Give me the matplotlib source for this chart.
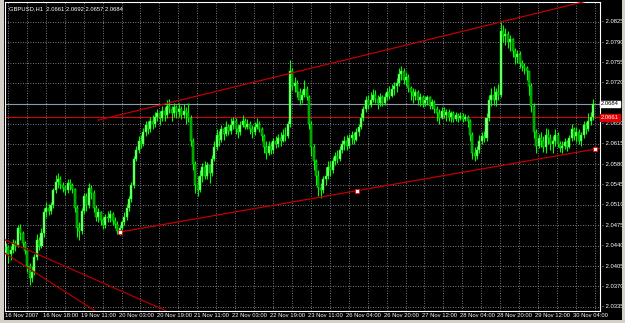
import numpy as np
import matplotlib
matplotlib.use("Agg")
import matplotlib.pyplot as plt

# GBPUSD H1 bars, prices in pips above 2.0000
first_open = 432
closes = [438, 425, 432, 445, 440, 470, 462, 445, 430, 405,
          385, 395, 420, 450, 440, 462, 498, 505, 500, 510,
          535, 550, 555, 545, 540, 535, 548, 545, 538, 505,
          470, 465, 500, 525, 510, 540, 530, 505, 490, 498,
          485, 475, 490, 488, 495, 482, 478, 465, 470, 480,
          490, 505, 520, 545, 590, 605, 620, 615, 635, 648,
          640, 655, 650, 662, 668, 660, 672, 665, 680, 675,
          668, 678, 670, 675, 665, 672, 668, 660, 620, 580,
          545, 535, 560, 575, 560, 578, 565, 590, 610, 630,
          622, 640, 632, 645, 638, 648, 655, 640, 635, 648,
          655, 645, 650, 640, 635, 645, 650, 640, 628, 610,
          600, 612, 605, 620, 615, 625, 620, 630, 628, 650,
          740, 715, 720, 705, 690, 700, 710, 695, 650, 610,
          585, 560, 540, 535, 555, 560, 575, 570, 585, 595,
          590, 605, 615, 620, 612, 625, 630, 622, 635, 645,
          660, 675, 690, 682, 690, 700, 692, 685, 695, 685,
          695, 705, 698, 710, 715, 720, 735, 740, 725, 730,
          712, 705, 698, 705, 690, 695, 685, 690, 695, 680,
          688, 675, 668, 660, 672, 665, 670, 662, 668, 658,
          665, 660, 663, 658, 662, 655, 630, 600, 595, 605,
          620, 628, 625, 660, 690, 700, 690, 705, 700, 810,
          800, 805, 790, 795, 775, 765, 770, 755, 750, 745,
          740, 715, 680, 635, 612, 625, 620, 610, 630, 625,
          615, 620, 630, 615, 608, 612, 618, 610, 625, 640,
          628, 635, 620, 630, 648, 640, 655, 661, 684]
highs = [445, 442, 440, 452, 450, 476, 478, 465, 448, 432,
         410, 405, 425, 460, 455, 470, 505, 515, 512, 515,
         540, 562, 565, 560, 550, 545, 555, 555, 548, 540,
         510, 480, 505, 530, 530, 548, 545, 535, 510, 505,
         500, 490, 495, 500, 502, 498, 490, 482, 475, 485,
         498, 512, 525, 550, 595, 612, 628, 630, 642, 655,
         655, 662, 665, 670, 676, 672, 680, 678, 690, 692,
         680, 685, 682, 685, 680, 684, 678, 685, 665, 625,
         585, 560, 570, 582, 585, 584, 580, 596, 620, 640,
         638, 648, 645, 655, 650, 660, 662, 660, 648, 655,
         665, 660, 658, 655, 648, 652, 660, 655, 645, 632,
         620, 620, 618, 625, 628, 632, 635, 640, 645, 655,
         760, 745, 730, 725, 712, 708, 725, 715, 700, 655,
         615, 590, 570, 548, 560, 575, 585, 585, 592, 602,
         605, 612, 622, 628, 630, 632, 638, 635, 642, 650,
         668, 680, 698, 700, 705, 710, 708, 700, 702, 700,
         702, 712, 715, 718, 722, 728, 745, 750, 745, 738,
         735, 715, 712, 710, 708, 702, 700, 698, 700, 698,
         692, 690, 680, 675, 678, 678, 676, 675, 672, 672,
         670, 668, 670, 668, 666, 665, 658, 635, 610, 612,
         630, 636, 638, 668, 700, 712, 715, 712, 718, 825,
         820, 815, 810, 802, 798, 780, 776, 775, 760, 755,
         750, 740, 720, 685, 640, 632, 635, 628, 642, 640,
         632, 628, 640, 635, 620, 620, 625, 622, 630, 650,
         645, 645, 640, 635, 655, 652, 668, 670, 692]
lows = [425, 410, 415, 428, 430, 438, 450, 438, 425, 395,
        372, 378, 390, 415, 432, 436, 455, 490, 492, 495,
        505, 530, 540, 538, 532, 528, 530, 535, 530, 498,
        455, 450, 460, 495, 500, 505, 520, 498, 482, 480,
        475, 468, 470, 480, 480, 475, 470, 460, 458, 465,
        475, 485, 500, 515, 540, 585, 600, 608, 612, 628,
        632, 635, 640, 645, 655, 648, 655, 655, 660, 668,
        655, 662, 660, 662, 658, 660, 650, 652, 612, 570,
        530, 525, 532, 550, 555, 555, 548, 560, 585, 605,
        612, 618, 622, 628, 630, 632, 640, 632, 625, 630,
        645, 640, 640, 632, 625, 630, 640, 635, 620, 600,
        590, 596, 598, 600, 608, 610, 612, 618, 620, 625,
        645, 708, 705, 695, 682, 685, 695, 690, 640, 595,
        570, 545, 525, 522, 530, 545, 555, 560, 565, 578,
        582, 585, 600, 605, 605, 608, 615, 615, 620, 628,
        640, 655, 670, 675, 678, 688, 685, 675, 680, 680,
        682, 690, 692, 695, 700, 705, 715, 725, 718, 715,
        705, 690, 685, 690, 682, 680, 678, 680, 682, 675,
        676, 668, 655, 650, 658, 660, 655, 655, 652, 652,
        655, 652, 656, 652, 655, 645, 620, 590, 585, 590,
        600, 615, 618, 620, 655, 680, 682, 680, 690, 695,
        790, 785, 780, 775, 765, 752, 755, 745, 740, 735,
        725, 700, 670, 625, 600, 608, 610, 602, 600, 615,
        605, 600, 612, 610, 602, 600, 606, 603, 608, 620,
        622, 618, 615, 612, 625, 632, 638, 648, 657]

time_labels = ["16 Nov 2007", "16 Nov 18:00", "19 Nov 11:00", "20 Nov 03:00",
               "20 Nov 19:00", "21 Nov 11:00", "22 Nov 03:00", "22 Nov 19:00",
               "23 Nov 11:00", "26 Nov 04:00", "26 Nov 20:00", "27 Nov 12:00",
               "28 Nov 04:00", "28 Nov 20:00", "29 Nov 12:00", "30 Nov 04:00"]
price_ticks = [2.0335, 2.0370, 2.0405, 2.0440, 2.0475, 2.0510, 2.0545, 2.0580,
               2.0615, 2.0650, 2.0720, 2.0755, 2.0790, 2.0825]
bid_price = 2.0684
hline_price = 2.0661
header = "GBPUSD,H1  2.0661 2.0692 2.0657 2.0684"

# trend lines, anchors as (bar, price)
upper_line = [(38.9, 2.0656), (229.8, 2.08455)]
lower_line = [(48.2, 2.04635), (148.3, 2.0534), (248.8, 2.0606)]
mirror_a = [(-0.42, 2.0427), (37.6, 2.0328)]
mirror_b = [(-0.42, 2.0450), (67.6, 2.0328)]

c = 2.0 + np.array(closes) / 10000.0
o = np.concatenate([[2.0 + first_open / 10000.0], c[:-1]])
h = 2.0 + np.array(highs) / 10000.0
l = 2.0 + np.array(lows) / 10000.0
h = np.maximum(h, np.maximum(o, c))
l = np.minimum(l, np.minimum(o, c))
n = len(c)
x = np.arange(n)

W, H = 625, 323
fig = plt.figure(figsize=(W / 100, H / 100), dpi=100)
fig.patch.set_facecolor("black")
ax = fig.add_axes([5 / W, 12 / H, 595 / W, 309 / H])
ax.set_facecolor("black")
ax.set_xlim(-0.42, 250.95)
ax.set_ylim(2.03276, 2.08593)
for s in ax.spines.values():
    s.set_color("white")
    s.set_linewidth(0.8)
ax.set_xticks([])
ax.set_yticks([])

grid_kw = dict(color="#a0a0a0", lw=0.6, linestyle=(0, (1, 2)), zorder=1)
for p in price_ticks:
    ax.axhline(p, **grid_kw)
for k in range(0, 256, 8):
    ax.axvline(k + 0.8, **grid_kw)

# candles
up = c >= o
ax.vlines(x, l, h, color="#00ff00", lw=0.8, zorder=3)
bw = 0.85
for i in range(n):
    lo, hi = min(o[i], c[i]), max(o[i], c[i])
    fc = "#8cff8c" if up[i] else "#009000"
    ax.add_patch(plt.Rectangle((x[i] - bw / 2, lo), bw, max(hi - lo, 0.00004),
                               facecolor=fc, edgecolor="#00ff00", lw=0.35, zorder=4))

# horizontal lines
ax.axhline(bid_price, color="#8a9aa8", lw=0.8, zorder=2)
ax.axhline(hline_price, color="#e00000", lw=0.75, zorder=2)

# trend lines
def ray(pts, color="#c00000"):
    (x0, y0), (x1, y1) = pts[0], pts[-1]
    slope = (y1 - y0) / (x1 - x0)
    xs = np.array([x0, 260])
    ax.plot(xs, y0 + slope * (xs - x0), color=color, lw=0.9, zorder=5)

ray(upper_line)
ray(lower_line)
for seg in (mirror_a, mirror_b):
    ax.plot([seg[0][0], seg[1][0]], [seg[0][1], seg[1][1]], color="#b00000", lw=0.9, zorder=5)
ax.plot([p[0] for p in lower_line], [p[1] for p in lower_line], ls="none", marker="s",
        ms=2.2, mfc="white", mec="red", mew=0.6, zorder=6)

font = dict(family="Liberation Sans", size=4.2, color="white")
ax.text(0.006, 0.985, header, transform=ax.transAxes, va="top", ha="left", **font)

ty = ax.get_yaxis_transform()
for p in price_ticks:
    ax.text(1.004, p, "- %.4f" % p, transform=ty, va="center", ha="left", **font)
ax.text(1.002, bid_price, "%.4f" % bid_price, transform=ty, va="center", ha="left",
        family="Liberation Sans", size=4.2, color="black",
        bbox=dict(boxstyle="square,pad=0.15", fc="white", ec="white"))
ax.text(1.002, hline_price, "%.4f" % hline_price, transform=ty, va="center", ha="left",
        family="Liberation Sans", size=4.2, color="white",
        bbox=dict(boxstyle="square,pad=0.15", fc="#e00000", ec="#e00000"))

tx = ax.get_xaxis_transform()
for k, lab in enumerate(time_labels):
    ax.text(k * 16 - 0.4, -0.008, lab, transform=tx, va="top", ha="left", **font)

# window frame
fig.add_artist(plt.Rectangle((0, 0), 4 / W, 1, transform=fig.transFigure, fc="#d4d0c8", ec="none"))
fig.add_artist(plt.Rectangle((0, 0), 1, 3 / H, transform=fig.transFigure, fc="#d4d0c8", ec="none"))
fig.add_artist(plt.Rectangle((1 - 3 / W, 0), 3 / W, 1, transform=fig.transFigure, fc="#d4d0c8", ec="none"))

fig.savefig("out.png", dpi=100, facecolor="black")
